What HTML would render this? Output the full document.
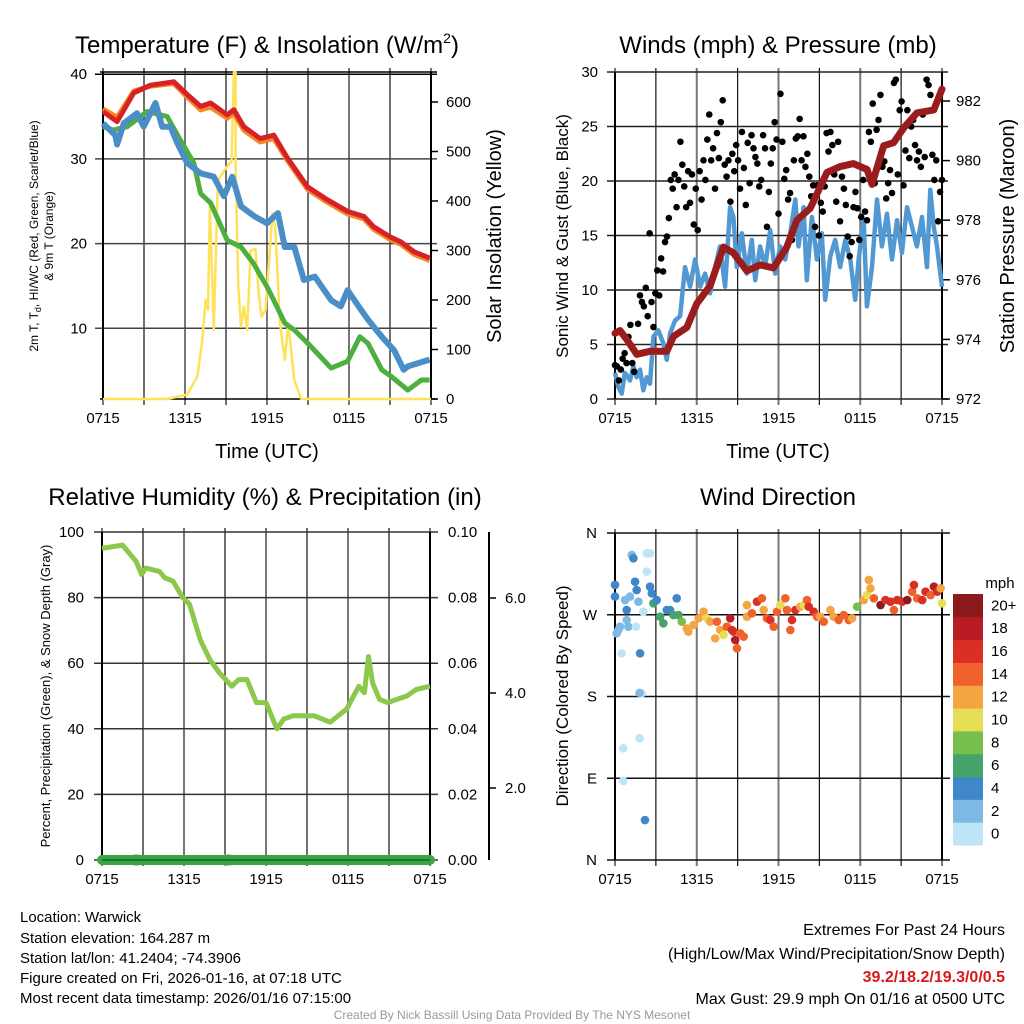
<!DOCTYPE html>
<html><head><meta charset="utf-8"><style>
html,body{margin:0;padding:0;background:#fff;}
svg{display:block;font-family:"Liberation Sans",sans-serif;}
</style></head><body>
<svg id="fig" width="1024" height="1024" viewBox="0 0 1024 1024">
<g id="bg"><rect width="1024" height="1024" fill="#fff"/></g>
<text x="267" y="53" font-size="24" text-anchor="middle">Temperature (F) &amp; Insolation (W/m<tspan font-size="14" dy="-10">2</tspan><tspan dy="10">)</tspan></text>
<text x="778" y="53" font-size="24" text-anchor="middle">Winds (mph) &amp; Pressure (mb)</text>
<text x="265" y="505" font-size="24" text-anchor="middle">Relative Humidity (%) &amp; Precipitation (in)</text>
<text x="778" y="505" font-size="24" text-anchor="middle">Wind Direction</text>
<text transform="translate(38,236) rotate(-90)" font-size="12" text-anchor="middle">2m T, T<tspan font-size="9" dy="3">d</tspan><tspan dy="-3">, HI/WC (Red, Green, Scarlet/Blue)</tspan></text>
<text transform="translate(53,236) rotate(-90)" font-size="12" text-anchor="middle">&amp; 9m T (Orange)</text>
<text transform="translate(501,236) rotate(-90)" font-size="20" text-anchor="middle">Solar Insolation (Yellow)</text>
<text transform="translate(568,236) rotate(-90)" font-size="17" text-anchor="middle">Sonic Wind &amp; Gust (Blue, Black)</text>
<text transform="translate(1014,236) rotate(-90)" font-size="20" text-anchor="middle">Station Pressure (Maroon)</text>
<text transform="translate(50,696) rotate(-90)" font-size="13" text-anchor="middle">Percent, Precipitation (Green), &amp; Snow Depth (Gray)</text>
<text transform="translate(568,696) rotate(-90)" font-size="17" text-anchor="middle">Direction (Colored By Speed)</text>
<text x="267" y="458" font-size="20" text-anchor="middle">Time (UTC)</text>
<text x="778" y="458" font-size="20" text-anchor="middle">Time (UTC)</text>
<text x="1000" y="588" font-size="15" text-anchor="middle">mph</text>
<g font-size="15">
<text x="20" y="922">Location: Warwick</text>
<text x="20" y="943">Station elevation: 164.287 m</text>
<text x="20" y="963">Station lat/lon: 41.2404; -74.3906</text>
<text x="20" y="983">Figure created on Fri, 2026-01-16, at 07:18 UTC</text>
<text x="20" y="1003">Most recent data timestamp: 2026/01/16 07:15:00</text>
</g>
<g font-size="16" text-anchor="end">
<text x="1005" y="935">Extremes For Past 24 Hours</text>
<text x="1005" y="959">(High/Low/Max Wind/Precipitation/Snow Depth)</text>
<text x="1005" y="982" fill="#d7191c" font-weight="bold">39.2/18.2/19.3/0/0.5</text>
<text x="1005" y="1004">Max Gust: 29.9 mph On 01/16 at 0500 UTC</text>
</g>
<text x="512" y="1019" font-size="12" fill="#999" text-anchor="middle">Created By Nick Bassill Using Data Provided By The NYS Mesonet</text>
</svg>
<script>
// ---- data ----
const xTickLabels = ["0715","1315","1915","0115","0715"];
const tempTicks = [10,20,30,40];
const solarTicks = [0,100,200,300,400,500,600];
const windTicks = [0,5,10,15,20,25,30];
const presTicks = [972,974,976,978,980,982];
const rhTicks = [0,20,40,60,80,100];
const precipTicks = ["0.00","0.02","0.04","0.06","0.08","0.10"];
const snowTicks = ["2.0","4.0","6.0"];
const dirTicks = ["N","E","S","W","N"];
const speedBins = ["0","2","4","6","8","10","12","14","16","18","20+"];

const redT = [0,1.03,2.25,3.47,5.18,6.16,7.14,7.87,9.09,9.58,10.3,11.5,12.5,13.5,14.97,16.4,17.9,19.1,19.8,21.0,21.8,22.8,23.9];
const redV = [35.6,34.4,37.8,38.7,39.1,37.6,36.2,36.6,35.2,35.8,33.8,32.4,32.8,30.1,26.7,25.2,23.8,23.2,22.0,20.8,20.2,19.0,18.3];
const orangeV = [35.9,34.9,38.0,38.6,38.9,37.3,35.8,36.1,34.8,35.4,33.4,32.0,32.4,29.8,26.4,24.9,23.5,22.9,21.7,20.5,19.9,18.7,18.0];
const blueT = [0,0.9,1.03,1.52,2.49,2.98,3.84,4.33,4.94,5.43,6.16,7.14,8.11,8.85,9.46,10.1,11.1,12.0,12.8,13.3,14.0,14.7,15.5,16.7,17.4,17.9,18.7,19.4,20.4,21.3,22.0,22.3,23.9];
const blueV = [34.2,32.8,31.7,34.2,35.4,33.8,36.6,33.8,33.8,31.9,29.5,28.3,27.9,25.6,27.9,24.4,23.2,22.4,23.6,19.6,19.6,15.7,16.1,13.3,12.6,14.5,12.6,11.0,9.0,7.4,5.1,5.5,6.3];
const greenT = [0,0.78,1.76,3.23,4.7,5.67,6.65,7.14,7.87,9.09,10.1,11.0,12.0,12.5,13.3,14.0,15.0,16.7,17.9,18.8,19.4,20.4,21.1,22.3,23.3,23.9];
const greenV = [33.8,33.4,33.8,35.6,35.0,32.2,29.5,25.9,24.8,20.4,19.6,17.7,14.9,13.3,10.6,9.8,8.2,5.3,6.1,9.0,8.2,5.1,4.3,2.7,3.9,3.9];
const solarT = [0,4.7,6.16,6.9,7.27,7.51,7.68,7.82,7.82,8.11,8.4,8.6,9.09,9.4,9.58,9.7,9.7,9.9,10.1,10.3,10.55,10.8,11.15,11.4,11.6,11.9,12.4,12.6,12.95,13.3,13.55,14.0,14.5,24];
const solarV = [0,0,9,45,120,200,180,390,390,140,440,450,470,480,660,660,470,227,146,187,140,300,303,213,166,180,375,348,153,79,153,38,0,0];

const presT = [0,0.37,0.86,1.6,2.57,3.8,4.29,5.27,6.0,6.98,7.96,8.7,9.68,10.65,11.63,12.61,13.35,14.33,15.55,16.53,17.5,18.5,18.86,19.72,20.45,21.2,22.16,23.4,24];
const presV = [974.2,974.3,974.0,973.5,973.6,973.6,974.1,974.4,975.2,975.8,977.1,976.9,976.3,976.5,976.4,977.1,978.0,978.4,979.6,979.8,979.9,979.7,979.2,980.5,980.6,981.1,981.6,981.7,982.4];
const windT = [0,0.24,0.49,0.73,1.1,1.35,1.59,1.84,2.08,2.33,2.57,2.82,3.18,3.55,3.8,4.04,4.41,4.78,5.14,5.51,5.88,6.25,6.61,6.98,7.35,7.71,8.08,8.45,8.69,8.94,9.31,9.67,10.04,10.29,10.65,11.02,11.39,11.76,12.12,12.49,12.86,13.23,13.47,13.84,14.08,14.45,14.82,15.18,15.43,15.8,16.16,16.53,16.9,17.27,17.63,17.88,18.25,18.49,18.86,19.23,19.59,19.96,20.33,20.7,21.06,21.43,21.8,22.16,22.53,22.9,23.14,23.39,23.63,24];
const windV = [2.4,1.1,0.5,2.4,1.7,3.0,2.0,2.7,0.8,2.0,1.4,5.7,6.3,5.1,3.6,6.0,7.2,7.6,12.1,10.3,12.8,10.3,11.5,9.7,12.1,14.0,10.3,17.6,16.7,12.1,15.2,11.5,14.6,10.9,14.0,12.1,15.5,11.5,14.0,12.8,15.2,18.3,14.0,17.6,10.9,16.7,12.8,15.2,9.1,13.1,14.6,12.1,14.6,12.8,9.1,12.8,16.4,8.5,12.1,18.3,14.0,17.0,12.8,16.4,13.4,17.6,15.8,14.0,16.7,12.1,19.2,15.8,14.0,10.3];
const gustV = [3.1,3.0,1.7,2.7,3.7,4.2,3.3,5.7,6.8,3.3,2.5,4.2,6.9,9.5,8.9,8.5,10.2,7.6,15.2,8.9,6.6,9.7,11.8,9.5,12.9,11.7,14.4,14.9,16.6,20.1,19.3,20.6,17.6,20.1,23.6,21.5,19.5,17.6,20.9,18.0,20.6,16.0,19.3,15.5,20.9,18.3,21.9,20.1,23.8,26.1,21.9,23.0,19.3,24.4,22.1,25.4,27.4,21.5,20.4,21.9,18.1,22.5,20.9,23.3,21.9,19.3,24.5,21.2,17.8,23.5,19.8,24.2,23.0,22.2,21.6,19.5,20.1,24.2,23.0,15.8,19.0,21.6,23.0,25.4,23.8,17.0,28.0,23.6,20.2,21.0,18.3,18.9,14.6,21.9,23.9,24.1,25.7,21.9,24.1,21.3,22.5,20.4,18.6,19.6,15.8,19.6,15.0,18.0,17.2,19.5,24.4,22.7,24.5,23.3,20.6,18.1,23.6,16.3,20.4,19.3,17.8,14.9,13.1,14.4,17.6,19.0,17.5,14.6,16.7,20.1,17.2,16.4,24.5,23.6,27.1,19.8,24.7,25.6,27.9,21.3,21.8,18.4,19.8,21.0,18.9,29.0,29.3,20.6,26.5,27.3,19.6,22.8,26.5,22.1,25.0,25.6,23.3,21.9,22.7,21.3,26.1,22.2,29.3,28.8,27.9,22.4,20.1,21.9,16.3,19.0,20.1];

const rhT = [0,1.5,2.5,2.9,3.2,4.2,4.6,5.2,5.9,6.4,7.2,7.9,8.6,9.5,10.0,10.6,11.3,12.0,12.8,13.3,14.0,14.7,15.5,16.7,17.9,18.8,19.2,19.5,19.8,20.3,20.9,21.6,22.3,23.0,24];
const rhV = [95,96,91,87,89,88,86,85,80,78,67,61,57,53,55,55,48,48,40,43,44,44,44,42,46,53,51,62,54,49,48,49,50,52,53];
const precipV = [0,0];
const snowT = [2.5,9.2];
const snowV = [0,0];

const dirT = [0,0,0.12,0.25,0.37,0.49,0.74,0.86,0.86,0.98,1.1,1.23,1.35,1.47,1.59,1.54,1.72,1.84,1.96,2.08,2.33,2.33,2.57,2.57,2.7,2.82,3.06,3.31,3.55,3.8,4.04,4.29,4.53,4.66,4.9,5.27,5.39,5.76,6.13,6.5,6.74,6.99,7.35,7.48,7.72,7.97,8.21,8.46,8.58,8.7,8.82,8.95,9.19,9.44,9.68,9.68,10.05,10.42,10.78,10.91,11.15,11.4,11.64,11.89,12.13,12.5,12.62,12.87,12.99,13.24,13.6,13.85,14.09,14.22,14.58,14.83,15.07,15.32,15.81,16.05,16.42,16.79,17.16,17.4,17.77,18.26,18.5,18.63,18.75,19.0,19.49,19.85,20.22,20.47,20.71,21.08,21.45,21.81,21.94,22.18,22.55,22.79,23.16,23.41,23.65,23.9,24,0.6,0.6,2.2,1.8,1.8];
const dirDeg = [302.8,290,249.5,253.2,256.9,227.5,286.2,275.2,264.2,256.9,290,335.8,332.1,306.4,297.2,256.9,284.4,227.5,183.5,273.4,317.4,337.6,337.6,300.9,293.6,282.6,286.2,267.9,260.6,275.2,275.2,269.7,288.1,269.7,262.4,255,251.4,258.7,266.1,273.4,266.1,262.4,244,262.4,253.2,247.7,256.9,266.1,253.2,251.4,242.2,233,249.5,245.9,267.9,280.7,271.6,284.4,288.1,275.2,266.1,264.2,256.9,273.4,280.7,288.1,275.2,253.2,264.2,275.2,278.9,280.7,286.2,278.9,273.4,267.9,267.9,262.4,275.2,267.9,264.2,269.7,264.2,266.1,278.9,286.2,291.7,308.3,299.1,288.1,280.7,286.2,284.4,275.2,286.2,284.4,286.2,295.4,302.8,288.1,286.2,295.4,291.7,300.9,295.4,299.1,282.6,123,87,44,134,184];
const dirSpd = [4,4,2,2,2,0,2,4,2,2,2,2,4,4,4,0,2,4,0,0,0,0,0,4,4,6,4,6,6,4,4,6,4,6,8,12,12,12,12,12,10,12,12,14,12,10,14,18,16,16,18,14,14,14,12,12,14,16,14,12,14,16,14,14,10,14,14,14,16,16,12,10,14,16,16,14,12,14,12,12,14,14,14,12,8,12,10,12,12,14,20,16,16,14,16,16,20,14,16,14,16,16,14,18,16,12,10,0,0,4,0,2];

// ---- helpers ----
const NS = "http://www.w3.org/2000/svg";
const svg = document.getElementById("fig");
function mk(tag, attrs, parent) {
  const e = document.createElementNS(NS, tag);
  for (const k in attrs) e.setAttribute(k, attrs[k]);
  (parent || svg).appendChild(e);
  return e;
}
function grp(parent) { return mk("g", {}, parent); }
const speedColors = ["#bde4f7","#7eb9e5","#3f87c7","#44a46a","#78be4a","#e6df55","#f5a442","#f0612b","#d93025","#b81c22","#8b1a1a"];

function makeX(x0, x1) { return t => x0 + t / 24 * (x1 - x0); }
function makeY(v0, v1, yb, yt) { return v => yb - (v - v0) / (v1 - v0) * (yb - yt); }

function vgrid(g, X, yT, yB) {
  for (let h = 0; h <= 24; h += 3) {
    const l = mk("line", {x1: X(h), x2: X(h), y1: yT - 4, y2: yB + 6, stroke: h % 6 === 0 ? "#777" : "#111", "stroke-width": h % 6 === 0 ? 2 : 1.2}, g);
    
    
  }
  xTickLabels.forEach((s, i) => {
    const tx = mk("text", {x: X(i * 6), y: yB + 24, "font-size": 15, "text-anchor": "middle"}, g);
    tx.textContent = s;
    
    
  });
}
function pathOf(ts, vs, X, Y) {
  return ts.map((t, i) => (i ? "L" : "M") + X(t).toFixed(1) + "," + Y(vs[i]).toFixed(1)).join("");
}
function frame(g, x0, x1, yT, yB) {
  mk("line", {x1: x0, x2: x0, y1: yT, y2: yB, stroke: "#000", "stroke-width": 2}, g);
  mk("line", {x1: x1, x2: x1, y1: yT, y2: yB, stroke: "#000", "stroke-width": 2}, g);
}

// ---- Panel 1: temperature ----
(function () {
  const g = grp();  
  const X = makeX(103, 431), YT = makeY(0, 40, 413, 74.2), YS = makeY(0, 600, 399, 102);
  vgrid(g, X, 72, 399);
  tempTicks.forEach(v => {
    mk("line", {x1: 95, x2: 437, y1: YT(v), y2: YT(v), stroke: v === 40 ? "#000" : "#444", "stroke-width": 1.5}, g);
    const tx = mk("text", {x: 87, y: YT(v) + 5, "font-size": 15, "text-anchor": "end"}, g); tx.textContent = v;
     
  });
  mk("line", {x1: 100, x2: 437, y1: 72, y2: 72, stroke: "#000", "stroke-width": 1.5}, g);
  solarTicks.forEach(v => {
    mk("line", {x1: 431, x2: 438, y1: YS(v), y2: YS(v), stroke: "#000", "stroke-width": 1.5}, g);
    const tx = mk("text", {x: 446, y: YS(v) + 5, "font-size": 15}, g); tx.textContent = v;
     
  });
  mk("line", {x1: 100, x2: 437, y1: 399, y2: 399, stroke: "#000", "stroke-width": 1.5}, g);
  frame(g, 103, 431, 72, 399);
  const s1 = mk("path", {d: pathOf(solarT, solarV, X, YS), fill: "none", stroke: "#fde25a", "stroke-width": 2.5, "stroke-linejoin": "round"}, g);
   
  const lg = mk("path", {d: pathOf(greenT, greenV, X, YT), fill: "none", stroke: "#4caf3f", "stroke-width": 5, "stroke-linejoin": "round"}, g);
   
  const lb = mk("path", {d: pathOf(blueT, blueV, X, YT), fill: "none", stroke: "#4a8ec8", "stroke-width": 6, "stroke-linejoin": "round"}, g);
   
  const lo = mk("path", {d: pathOf(redT, orangeV, X, YT), fill: "none", stroke: "#f7862a", "stroke-width": 5, "stroke-linejoin": "round"}, g);
   
  const lr = mk("path", {d: pathOf(redT, redV, X, YT), fill: "none", stroke: "#d62226", "stroke-width": 5, "stroke-linejoin": "round"}, g);
   
})();

// ---- Panel 2: winds ----
(function () {
  const g = grp();  
  const X = makeX(615, 942), YW = makeY(0, 30, 399, 72), YP = makeY(972, 982, 399, 101);
  vgrid(g, X, 72, 399);
  windTicks.forEach(v => {
    mk("line", {x1: 607, x2: 948, y1: YW(v), y2: YW(v), stroke: "#222", "stroke-width": 1.5}, g);
    const tx = mk("text", {x: 598, y: YW(v) + 5, "font-size": 15, "text-anchor": "end"}, g); tx.textContent = v;
     
  });
  presTicks.forEach(v => {
    mk("line", {x1: 942, x2: 950, y1: YP(v), y2: YP(v), stroke: "#000", "stroke-width": 1.5}, g);
    const tx = mk("text", {x: 956, y: YP(v) + 5, "font-size": 15}, g); tx.textContent = v;
     
  });
  frame(g, 615, 942, 72, 399);
  const lw = mk("path", {d: pathOf(windT, windV, X, YW), fill: "none", stroke: "#5299d3", "stroke-width": 4.5, "stroke-linejoin": "round"}, g);
   
  gustV.forEach((v, i) => {
    const c = mk("circle", {cx: X(i * 24 / (gustV.length - 1)), cy: YW(v), r: 3.3, fill: "#000"}, g);
     
  });
  const lp = mk("path", {d: pathOf(presT, presV, X, YP), fill: "none", stroke: "#9b1c1c", "stroke-width": 7, "stroke-linejoin": "round", "stroke-linecap": "round"}, g);
   
})();

// ---- Panel 3: RH ----
(function () {
  const g = grp();  
  const X = makeX(102, 430), Y = makeY(0, 100, 860, 532);
  vgrid(g, X, 532, 860);
  rhTicks.forEach((v, i) => {
    mk("line", {x1: 94, x2: 438, y1: Y(v), y2: Y(v), stroke: "#333", "stroke-width": 1.5}, g);
    const tx = mk("text", {x: 84, y: Y(v) + 5, "font-size": 15, "text-anchor": "end"}, g); tx.textContent = v;
     
    const tr = mk("text", {x: 448, y: Y(v) + 5, "font-size": 15}, g); tr.textContent = precipTicks[i];
     
  });
  frame(g, 102, 430, 532, 860);
  mk("line", {x1: 489, x2: 489, y1: 532, y2: 860, stroke: "#000", "stroke-width": 2}, g);
  snowTicks.forEach((s, i) => {
    const yy = 788 - i * 95;
    mk("line", {x1: 489, x2: 496, y1: yy, y2: yy, stroke: "#000", "stroke-width": 1.5}, g);
    const tx = mk("text", {x: 505, y: yy + 5, "font-size": 15}, g); tx.textContent = s;
     
  });
  const lr = mk("path", {d: pathOf(rhT, rhV, X, Y), fill: "none", stroke: "#8cc84b", "stroke-width": 5, "stroke-linejoin": "round"}, g);
   
  snowT.forEach((t, i) => {
    const c = mk("ellipse", {cx: X(t), cy: Y(snowV[i]), rx: 8, ry: 6, fill: "#bbb"}, g);
     
  });
  const YPr = makeY(0, 0.1, 860, 532);
  const pl = mk("path", {d: pathOf([0, 24], precipV, X, YPr), fill: "none", stroke: "#3aa544", "stroke-width": 10, "stroke-linecap": "round"}, g);
   
  mk("line", {x1: 102, x2: 430, y1: 860, y2: 860, stroke: "#1a5e22", "stroke-width": 1.5}, g);
})();

// ---- Panel 4: direction ----
(function () {
  const g = grp();  
  const X = makeX(615, 942), Y = makeY(0, 360, 860, 533);
  vgrid(g, X, 533, 860);
  dirTicks.forEach((s, i) => {
    const yy = Y(i * 90);
    mk("line", {x1: 607, x2: 950, y1: yy, y2: yy, stroke: "#111", "stroke-width": 1.5}, g);
    const tx = mk("text", {x: 597, y: yy + 5, "font-size": 15, "text-anchor": "end"}, g); tx.textContent = s;
     
  });
  frame(g, 615, 942, 533, 860);
  dirT.forEach((t, i) => {
    const c = mk("circle", {cx: X(t), cy: Y(dirDeg[i]), r: 4.3, fill: speedColors[Math.min(10, Math.round(dirSpd[i] / 2))]}, g);
     
  });
  const cb = grp(g);  
  const bh = (845 - 594) / speedBins.length;
  speedBins.forEach((s, i) => {
    const k = speedBins.length - 1 - i;
    const r = mk("rect", {x: 953, y: 594 + k * bh, width: 30, height: bh + 0.5, fill: speedColors[i]}, cb);
     
    const tx = mk("text", {x: 991, y: 594 + k * bh + bh / 2 + 5, "font-size": 15}, cb); tx.textContent = s;
     
  });
})();
</script>
</body></html>
